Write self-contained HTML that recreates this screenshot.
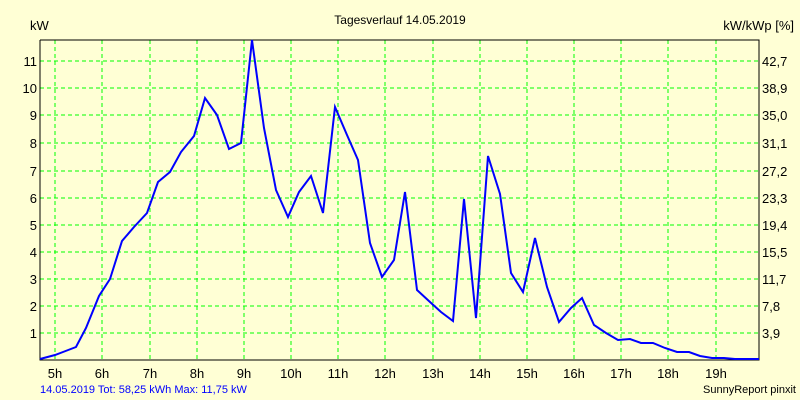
<!DOCTYPE html>
<html><head><style>
body{margin:0;background:#ffffd5;}
svg{display:block;font-family:"Liberation Sans",sans-serif;}
</style></head><body>
<svg width="800" height="400" viewBox="0 0 800 400">
<rect width="800" height="400" fill="#ffffd5"/>
<g stroke="#00ff00" stroke-dasharray="4,3" stroke-width="1">
<line x1="40" x2="759" y1="333" y2="333"/><line x1="40" x2="759" y1="306" y2="306"/>
<line x1="40" x2="759" y1="279" y2="279"/><line x1="40" x2="759" y1="252" y2="252"/>
<line x1="40" x2="759" y1="225" y2="225"/><line x1="40" x2="759" y1="198" y2="198"/>
<line x1="40" x2="759" y1="171" y2="171"/><line x1="40" x2="759" y1="143" y2="143"/>
<line x1="40" x2="759" y1="115" y2="115"/><line x1="40" x2="759" y1="88" y2="88"/>
<line x1="40" x2="759" y1="61" y2="61"/>
<line y1="40" y2="360" x1="55" x2="55"/><line y1="40" y2="360" x1="102" x2="102"/>
<line y1="40" y2="360" x1="150" x2="150"/><line y1="40" y2="360" x1="197" x2="197"/>
<line y1="40" y2="360" x1="244" x2="244"/><line y1="40" y2="360" x1="291" x2="291"/>
<line y1="40" y2="360" x1="338" x2="338"/><line y1="40" y2="360" x1="385" x2="385"/>
<line y1="40" y2="360" x1="433" x2="433"/><line y1="40" y2="360" x1="480" x2="480"/>
<line y1="40" y2="360" x1="527" x2="527"/><line y1="40" y2="360" x1="574" x2="574"/>
<line y1="40" y2="360" x1="621" x2="621"/><line y1="40" y2="360" x1="668" x2="668"/>
<line y1="40" y2="360" x1="716" x2="716"/>
</g>
<polyline fill="none" stroke="#000" stroke-width="1" points="40,40 40,360 759,360 759,40 40,40"/>
<polyline fill="none" stroke="#0000ff" stroke-width="2" points="40,359 55,355 63,352 76,347 86,328 99,296 110,279 122,241 134,227 147,213 158,182 170,172 181,152 194,136 205,98 217,115 229,149 241,143 252,40 264,128 276,190 288,217 299,192 311,176 323,213 335,107 347,135 358,160 370,243 382,277 394,260 405,192 417,290 430,302 441,312 453,321 464,199 476,318 488,156 500,194 511,273 523,292 535,238 547,287 559,322 571,308 582,298 594,325 606,333 618,340 630,339 641,343 653,343 665,348 677,352 689,352 700,356 712,358 724,358 735,359 759,359"/>
<g font-size="13" fill="#000">
<text x="400" y="24" text-anchor="middle" font-size="12">Tagesverlauf 14.05.2019</text>
<text x="30" y="30">kW</text>
<text x="794" y="30" text-anchor="end">kW/kWp [%]</text>
<g text-anchor="end">
<text x="37" y="338">1</text><text x="37" y="311">2</text><text x="37" y="284">3</text>
<text x="37" y="257">4</text><text x="37" y="230">5</text><text x="37" y="203">6</text>
<text x="37" y="176">7</text><text x="37" y="148">8</text><text x="37" y="120">9</text>
<text x="37" y="93">10</text><text x="37" y="66">11</text>
</g>
<g>
<text x="762" y="338">3,9</text><text x="762" y="311">7,8</text><text x="762" y="284">11,7</text>
<text x="762" y="257">15,5</text><text x="762" y="230">19,4</text><text x="762" y="203">23,3</text>
<text x="762" y="176">27,2</text><text x="762" y="148">31,1</text><text x="762" y="120">35,0</text>
<text x="762" y="93">38,9</text><text x="762" y="66">42,7</text>
</g>
<g text-anchor="middle">
<text x="55" y="378">5h</text><text x="102" y="378">6h</text><text x="150" y="378">7h</text>
<text x="197" y="378">8h</text><text x="244" y="378">9h</text><text x="291" y="378">10h</text>
<text x="338" y="378">11h</text><text x="385" y="378">12h</text><text x="433" y="378">13h</text>
<text x="480" y="378">14h</text><text x="527" y="378">15h</text><text x="574" y="378">16h</text>
<text x="621" y="378">17h</text><text x="668" y="378">18h</text><text x="716" y="378">19h</text>
</g>
<text x="40" y="393" font-size="11" fill="#0000ff">14.05.2019 Tot: 58,25 kWh Max: 11,75 kW</text>
<text x="796" y="393" font-size="11" text-anchor="end">SunnyReport pinxit</text>
</g>
</svg>
</body></html>
